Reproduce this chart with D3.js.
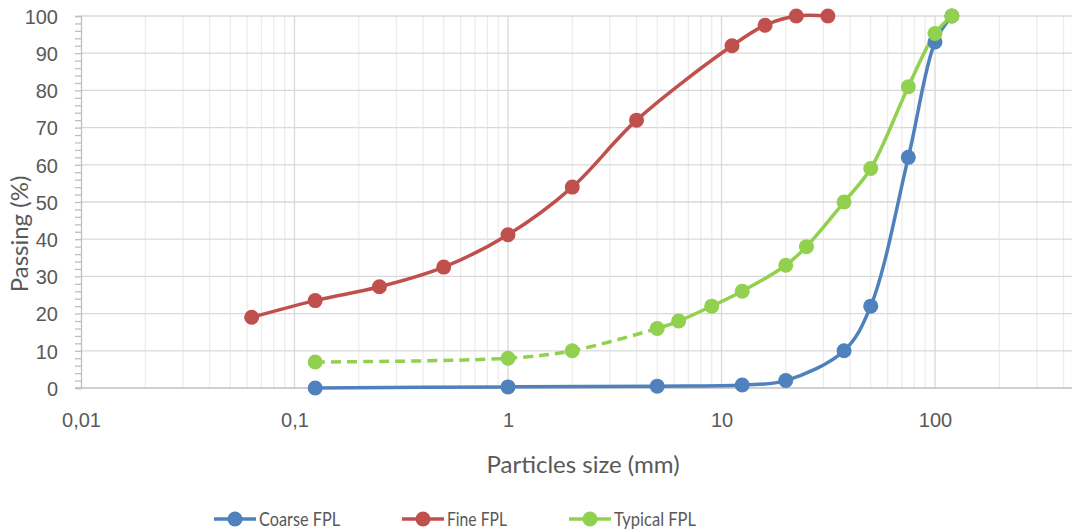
<!DOCTYPE html>
<html>
<head>
<meta charset="utf-8">
<script src="https://cdn.jsdelivr.net/npm/d3@7"></script>
<style>
  html, body { margin: 0; padding: 0; background: #fff; }
  svg { display: block; font-family: Lato, "Open Sans", sans-serif; }
</style>
</head>
<body>
<svg id="chart" width="1072" height="530"></svg>
<script>
// sieve sizes (mm) and % passing
const coarseSizes = [0.125, 1, 5, 12.5, 20, 37.5, 50, 75, 100, 120];
const coarseValues = [0, 0.3, 0.5, 0.8, 2, 10, 22, 62, 93, 100];

const fineSizes = [0.063, 0.125, 0.25, 0.5, 1, 2, 4, 11.2, 16, 22.4, 31.5];
const fineValues = [19, 23.5, 27.2, 32.5, 41.2, 54, 72, 92, 97.5, 100, 100];

const typicalSizes = [0.125, 1, 2, 5, 6.3, 9, 12.5, 20, 25, 37.5, 50, 75, 100, 120];
const typicalValues = [7, 8, 10, 16, 18, 22, 26, 33, 38, 50, 59, 81, 95.3, 100];
const typicalDashedUpTo = 3; // first segments drawn dashed

const xTicks = [0.01, 0.1, 1, 10, 100];
const xTickLabels = ['0,01', '0,1', '1', '10', '100'];
const yTicks = [0, 10, 20, 30, 40, 50, 60, 70, 80, 90, 100];

const seriesNames = ['Coarse FPL', 'Fine FPL', 'Typical FPL'];
const seriesColors = ['#4F81BD', '#C0504D', '#92D050'];

const W = 1072;
const plotLeft = 81, plotTop = 16, plotBottom = 388;

const svg = d3.select('#chart');

const x = d3.scaleLog().domain([0.01, 1000]).range([plotLeft, plotLeft + 5 * 213.5]);
const y = d3.scaleLinear().domain([0, 100]).range([plotBottom, plotTop]);

svg.append('defs').append('clipPath').attr('id', 'plotClip')
  .append('rect')
  .attr('x', plotLeft).attr('y', 0)
  .attr('width', W - plotLeft).attr('height', plotBottom + 10);

const grid = svg.append('g').attr('clip-path', 'url(#plotClip)');

// minor vertical gridlines (2..9 of each decade)
const minor = [];
for (let e = -2; e <= 2; e++) {
  for (let k = 2; k <= 9; k++) minor.push(k * Math.pow(10, e));
}
grid.selectAll('.minor-x').data(minor).enter().append('line')
  .attr('x1', d => x(d)).attr('x2', d => x(d))
  .attr('y1', plotTop).attr('y2', plotBottom)
  .attr('stroke', '#ececec').attr('stroke-width', 1.3);

grid.selectAll('.major-x').data(xTicks.slice(1)).enter().append('line')
  .attr('x1', d => x(d)).attr('x2', d => x(d))
  .attr('y1', plotTop).attr('y2', plotBottom)
  .attr('stroke', '#d9d9d9').attr('stroke-width', 1.3);

grid.selectAll('.major-y').data(yTicks.slice(1)).enter().append('line')
  .attr('x1', plotLeft).attr('x2', W)
  .attr('y1', d => y(d)).attr('y2', d => y(d))
  .attr('stroke', '#d9d9d9').attr('stroke-width', 1.3);

// y axis with minor ticks every 2
const yAxis = d3.axisLeft(y)
  .tickValues(d3.range(0, 101, 2))
  .tickSize(6)
  .tickFormat(d => (d % 10 === 0 ? d : ''));

const yG = svg.append('g').attr('transform', `translate(${plotLeft},0)`).call(yAxis);
yG.select('.domain').attr('stroke', '#bfbfbf').attr('stroke-width', 1.3);
yG.selectAll('.tick line').attr('stroke', '#bfbfbf').attr('stroke-width', 1.3);
yG.selectAll('.tick text')
  .attr('x', -23).attr('dy', '0.36em')
  .attr('fill', '#595959').style('font-size', '20px');

// x axis
const xAxis = d3.axisBottom(x)
  .tickValues(xTicks)
  .tickSize(0)
  .tickFormat((d, i) => xTickLabels[i]);

const xG = svg.append('g').attr('transform', `translate(0,${plotBottom})`).call(xAxis);
xG.select('.domain').remove();
xG.selectAll('.tick text')
  .attr('y', 39).attr('dy', 0)
  .attr('fill', '#595959').style('font-size', '20px');

svg.append('line')
  .attr('x1', plotLeft - 6).attr('x2', W)
  .attr('y1', plotBottom).attr('y2', plotBottom)
  .attr('stroke', '#bfbfbf').attr('stroke-width', 1.3);

// axis titles
svg.append('text')
  .attr('x', 583).attr('y', 473)
  .attr('text-anchor', 'middle')
  .attr('fill', '#595959').style('font-size', '24px')
  .text('Particles size (mm)');

svg.append('text')
  .attr('transform', 'translate(28,234) rotate(-90)')
  .attr('text-anchor', 'middle')
  .attr('fill', '#595959').style('font-size', '24px')
  .text('Passing (%)');

// series
const line = d3.line()
  .x(d => x(d[0]))
  .y(d => y(d[1]))
  .curve(d3.curveCatmullRom.alpha(0.5));

const coarse = d3.zip(coarseSizes, coarseValues);
const fine = d3.zip(fineSizes, fineValues);
const typical = d3.zip(typicalSizes, typicalValues);

const marks = svg.append('g');

function drawSeries(data, color, dash) {
  marks.append('path')
    .datum(data)
    .attr('d', line)
    .attr('fill', 'none')
    .attr('stroke', color)
    .attr('stroke-width', 3.5)
    .attr('stroke-linecap', dash ? 'butt' : 'round')
    .attr('stroke-dasharray', dash || null);
}

drawSeries(coarse, seriesColors[0]);
drawSeries(fine, seriesColors[1]);
drawSeries(typical.slice(0, typicalDashedUpTo + 1), seriesColors[2], '10,6');
drawSeries(typical.slice(typicalDashedUpTo), seriesColors[2]);

[coarse, fine, typical].forEach((data, i) => {
  marks.selectAll(null).data(data).enter().append('circle')
    .attr('cx', d => x(d[0]))
    .attr('cy', d => y(d[1]))
    .attr('r', 7.5)
    .attr('fill', seriesColors[i]);
});

// legend
const legendX = [214, 402, 569];
const legendTextW = [81, 60, 82];
const legend = svg.append('g');
seriesNames.forEach((name, i) => {
  const g = legend.append('g').attr('transform', `translate(${legendX[i]},519)`);
  g.append('line')
    .attr('x1', 0).attr('x2', 42)
    .attr('stroke', seriesColors[i]).attr('stroke-width', 3.5);
  g.append('circle').attr('cx', 21).attr('r', 7.5).attr('fill', seriesColors[i]);
  g.append('text')
    .attr('x', 45).attr('dy', '0.36em')
    .attr('textLength', legendTextW[i])
    .attr('lengthAdjust', 'spacingAndGlyphs')
    .attr('fill', '#595959').style('font-size', '20px')
    .text(name);
});
</script>
</body>
</html>
